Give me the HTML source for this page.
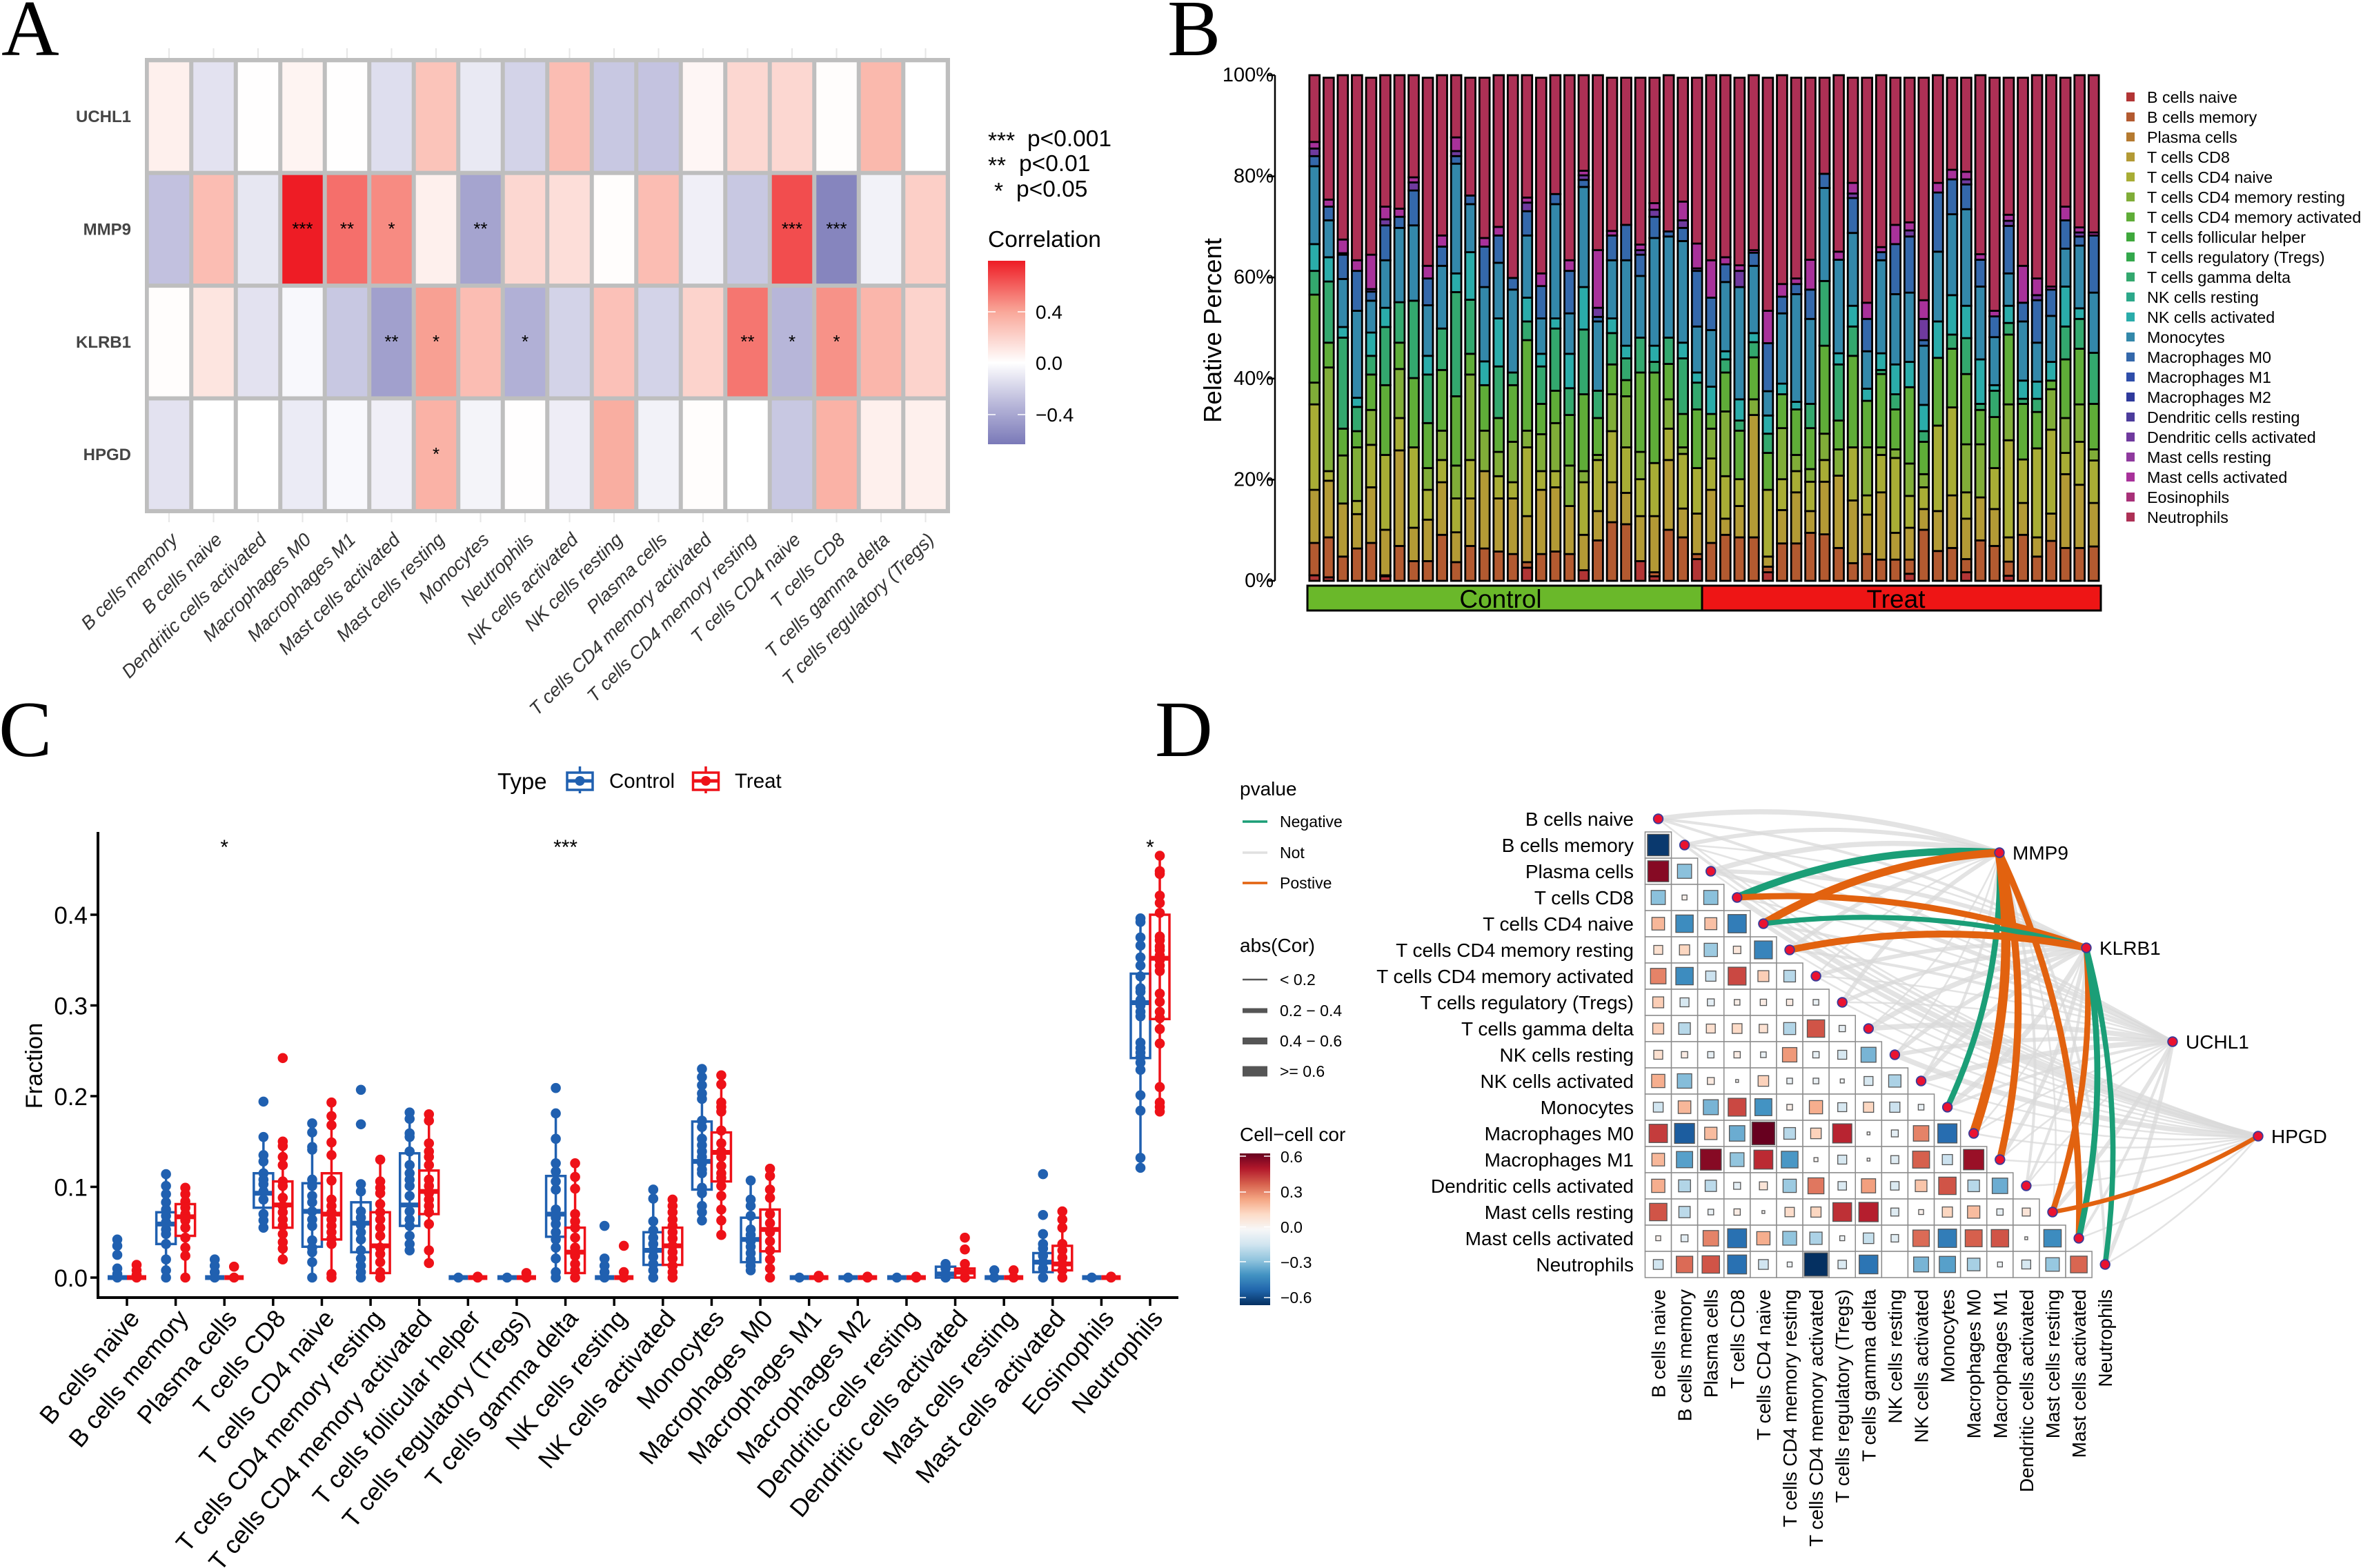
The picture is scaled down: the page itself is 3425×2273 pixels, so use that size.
<!DOCTYPE html>
<html lang="en">
<head>
<meta charset="utf-8">
<title>Immune cell infiltration figure</title>
<style>
html,body{margin:0;padding:0;background:#fff;}
svg{display:block;}
text{font-family:"Liberation Sans",Arial,sans-serif;fill:#000;}
.letter{font-family:"Liberation Serif",serif;font-size:116px;}
</style>
</head>
<body>
<svg id="figure" xmlns="http://www.w3.org/2000/svg" width="3425" height="2273" viewBox="0 0 3425 2273">
  <defs>
    <linearGradient id="corrGradA" x1="0" y1="0" x2="0" y2="1">
      <stop offset="0" stop-color="#ee1c25"/>
      <stop offset="0.278" stop-color="#f9a799"/>
      <stop offset="0.556" stop-color="#ffffff"/>
      <stop offset="0.78" stop-color="#b9b8da"/>
      <stop offset="1" stop-color="#7a79b8"/>
    </linearGradient>
    <linearGradient id="corrGradD" x1="0" y1="0" x2="0" y2="1">
      <stop offset="0" stop-color="#67001f"/>
      <stop offset="0.1" stop-color="#b2182b"/>
      <stop offset="0.2" stop-color="#d6604d"/>
      <stop offset="0.3" stop-color="#f4a582"/>
      <stop offset="0.4" stop-color="#fddbc7"/>
      <stop offset="0.5" stop-color="#f7f7f7"/>
      <stop offset="0.6" stop-color="#d1e5f0"/>
      <stop offset="0.7" stop-color="#92c5de"/>
      <stop offset="0.8" stop-color="#4393c3"/>
      <stop offset="0.9" stop-color="#2166ac"/>
      <stop offset="1" stop-color="#053061"/>
    </linearGradient>
  </defs>

  <text class="letter" x="2" y="80">A</text>
  <text class="letter" x="1692" y="80">B</text>
  <text class="letter" x="-2" y="1096">C</text>
  <text class="letter" x="1674" y="1096">D</text>

  <g id="panelA"></g>
  <g>
    <text x="1432" y="215" font-size="33.5">***</text><text x="1489" y="212" font-size="33.5">p&lt;0.001</text>
    <text x="1432" y="251" font-size="33.5">**</text><text x="1477" y="248" font-size="33.5">p&lt;0.01</text>
    <text x="1441" y="288" font-size="33.5">*</text><text x="1473" y="285" font-size="33.5">p&lt;0.05</text>
  </g>
  <g>
    <text x="1432" y="358" font-size="33.5">Correlation</text>
    <rect x="1432" y="378" width="54" height="266" fill="url(#corrGradA)"/>
    <path d="M1432 452h11M1475 452h11M1432 526h11M1475 526h11M1432 601h11M1475 601h11" stroke="#fff" stroke-width="1.5" fill="none"/>
    <text x="1501" y="462" font-size="28">0.4</text>
    <text x="1501" y="536" font-size="28">0.0</text>
    <text x="1501" y="611" font-size="28">−0.4</text>
  </g>

  <g id="panelB"></g>
  <g>
    <rect x="1895" y="849" width="572" height="36" fill="#6ab82a" stroke="#000" stroke-width="3"/>
    <rect x="2467" y="849" width="578" height="36" fill="#ee1515" stroke="#000" stroke-width="3"/>
    <text x="2175" y="881" font-size="37" text-anchor="middle">Control</text>
    <text x="2748" y="881" font-size="37" text-anchor="middle">Treat</text>
  </g>
  <text transform="translate(1770,479) rotate(-90)" font-size="36.5" text-anchor="middle">Relative Percent</text>

  <g id="panelC"></g>
  <g>
    <text x="721" y="1144" font-size="33">Type</text>
    <path d="M840.5 1111V1150" stroke="#2060b0" stroke-width="3.5"/>
    <rect x="822" y="1120" width="37" height="25" fill="#fff" stroke="#2060b0" stroke-width="3.5"/>
    <path d="M822 1132H859" stroke="#2060b0" stroke-width="5"/>
    <circle cx="840.5" cy="1132" r="7" fill="#2060b0"/>
    <text x="883" y="1142" font-size="29.5">Control</text>
    <path d="M1023 1111V1150" stroke="#ee1118" stroke-width="3.5"/>
    <rect x="1004.500" y="1120" width="37" height="25" fill="#fff" stroke="#ee1118" stroke-width="3.5"/>
    <path d="M1004.500 1132H1041" stroke="#ee1118" stroke-width="5"/>
    <circle cx="1023" cy="1132" r="7" fill="#ee1118"/>
    <text x="1065" y="1142" font-size="29.5">Treat</text>
  </g>
  <text transform="translate(61,1545) rotate(-90)" font-size="34.5" text-anchor="middle">Fraction</text>

  <g id="panelD"></g>
  <g>
    <text x="1797" y="1153" font-size="28">pvalue</text>
    <path d="M1801 1191h36" stroke="#1b9e77" stroke-width="3.5"/><text x="1855" y="1199" font-size="23">Negative</text>
    <path d="M1801 1236h36" stroke="#e0e0e0" stroke-width="3.5"/><text x="1855" y="1244" font-size="23">Not</text>
    <path d="M1801 1280h36" stroke="#e2620f" stroke-width="3.5"/><text x="1855" y="1288" font-size="23">Postive</text>
  </g>
  <g>
    <text x="1797" y="1380" font-size="28">abs(Cor)</text>
    <path d="M1801 1420h36" stroke="#555" stroke-width="2.5"/><text x="1855" y="1428" font-size="23">&lt; 0.2</text>
    <path d="M1801 1465h36" stroke="#555" stroke-width="7"/><text x="1855" y="1473" font-size="23">0.2 − 0.4</text>
    <path d="M1801 1509h36" stroke="#555" stroke-width="10"/><text x="1855" y="1517" font-size="23">0.4 − 0.6</text>
    <path d="M1801 1553h36" stroke="#555" stroke-width="15"/><text x="1855" y="1561" font-size="23">&gt;= 0.6</text>
  </g>
  <g>
    <text x="1797" y="1654" font-size="28">Cell−cell cor</text>
    <rect x="1797" y="1672" width="44" height="220" fill="url(#corrGradD)"/>
    <path d="M1797 1676h9M1832 1676h9M1797 1728h9M1832 1728h9M1797 1778.500h9M1832 1778.500h9M1797 1829h9M1832 1829h9M1797 1881h9M1832 1881h9" stroke="#fff" stroke-width="1.5" fill="none"/>
    <text x="1856" y="1685" font-size="23">0.6</text>
    <text x="1856" y="1736" font-size="23">0.3</text>
    <text x="1856" y="1787" font-size="23">0.0</text>
    <text x="1856" y="1838" font-size="23">−0.3</text>
    <text x="1856" y="1889" font-size="23">−0.6</text>
  </g>

<script>
// ===== Panel A data =====
const heatGenes = ['UCHL1','MMP9','KLRB1','HPGD'];
const heatCells = ['B cells memory','B cells naive','Dendritic cells activated','Macrophages M0','Macrophages M1','Mast cells activated','Mast cells resting','Monocytes','Neutrophils','NK cells activated','NK cells resting','Plasma cells','T cells CD4 memory activated','T cells CD4 memory resting','T cells CD4 naive','T cells CD8','T cells gamma delta','T cells regulatory (Tregs)'];
const corUCHL1 = [0.07,-0.13,0.005,0.05,0.005,-0.15,0.27,-0.1,-0.2,0.3,-0.25,-0.27,0.04,0.18,0.18,0.01,0.32,0];
const corMMP9  = [-0.28,0.3,-0.11,0.8,0.56,0.48,0.07,-0.42,0.18,0.15,0.01,0.3,-0.07,-0.25,0.66,-0.58,-0.06,0.22];
const corKLRB1 = [0.01,0.12,-0.13,-0.03,-0.25,-0.44,0.42,0.3,-0.36,-0.2,0.28,-0.2,0.2,0.54,-0.33,0.46,0.33,0.2];
const corHPGD  = [-0.13,0,0,-0.09,-0.03,-0.07,0.35,-0.05,0.005,-0.08,0.37,-0.06,0.01,0,-0.25,0.35,0.07,0.07];
const starsUCHL1 = ['','','','','','','','','','','','','','','','','',''];
const starsMMP9  = ['','','','***','**','*','','**','','','','','','','***','***','',''];
const starsKLRB1 = ['','','','','','**','*','','*','','','','','**','*','*','',''];
const starsHPGD  = ['','','','','','','*','','','','','','','','','','',''];

// ===== Panel B data: cumulative percent at the top of each stacked segment =====
const stackColors = ['#b23535','#b35a30','#b39a35','#a8ad35','#80ad38','#5fad38','#33a86e','#2aacaa','#3388aa','#3468ab','#6f3a9e','#a8319a','#ad3055'];
const controlSamples = [
[1.1,7.5,18,34.9,39.2,56.6,61.3,66.6,82,84,85.5,86.8,100],
[0.7,8.6,19.8,21.7,42.2,47.1,59.2,64,71.3,74,74,75.4,99.5],
[0,4.8,15.3,15.3,24.8,30.1,48.1,50.2,59.7,64.5,64.8,67.5,100],
[0,6.4,13.2,15.8,26.4,29.6,34.4,36.2,53.4,61.3,61.3,63.4,100],
[0,7.5,18.5,26.9,33.8,40.8,44.5,49.1,55.4,57.2,57.7,64.5,99.5],
[0.9,1.1,10.1,24.9,24.9,38.7,50.2,54,63.4,70.3,71.5,74,100],
[0,6.9,25.8,32.2,41.9,47.1,55.1,55.1,69.8,72,72,73.6,100],
[0,3.9,10.5,26.4,26.4,40.1,55.4,55.4,70.3,77.2,78.8,79.8,100],
[0,3.9,12.1,18,22.3,31.2,40.8,44.5,54.5,59.8,59.8,62.3,99.5],
[0,9.1,19.5,23.9,29.7,41.7,49.9,49.9,62.3,66.1,66.1,68.3,100],
[0,3.7,9.6,16.3,22.8,36.5,57.1,60.8,82.5,84,85,87.7,100],
[0,6.9,16.3,23.9,40.8,44.9,55.6,65,74.5,76.2,76.2,76.2,99.5],
[0,6.4,21.7,21.7,29.7,38.7,38.7,43.4,58.1,66.1,66.1,67.8,99.5],
[0,5.8,16.3,20.7,25.5,32.2,42.4,51.9,62.9,68.3,68.3,70,100],
[0,5.3,16.3,19.5,27.5,38.7,41.2,41.2,57.6,59.9,59.9,59.9,100],
[2.6,3.7,12.8,26.4,29.7,47.6,51.3,56,68.3,73.1,74.8,75.8,100],
[0,5.3,18,21.7,29,35,42.4,44.9,51.9,58.3,58.3,60.8,99.5],
[0,5.8,18.5,21.7,31.2,37.6,49.9,51.9,74.5,76.5,76.5,76.5,100],
[0,5.3,14.8,14.8,22.8,32.8,38.1,44.9,52.9,61.3,61.3,63.4,100],
[2.1,2.1,9.1,19.5,21.7,36.9,49.7,58.1,77.9,79.3,80.2,81.1,100],
[0,8,13.8,23.9,24.9,32.2,37.6,37.6,51.3,52.2,54,65.4,100],
[0,11.6,19.5,29.6,36.9,42.8,49,51.9,63.4,68.3,68.3,69.2,99.5],
[0,11.2,17.4,26.4,36.5,39.7,44,46.5,63.4,70.4,70.4,70.4,99.5],
[3.9,3.9,12.8,20.1,25.5,41.2,48.1,48.1,60.3,64.5,65.4,66.5,99.5],
[0.9,1.7,12.8,23.3,23.3,41.2,43.3,46.5,67.8,72,73.4,74.7,99.5],
[0,10.1,23.9,30.1,35.9,42.9,48.1,48.1,68.1,69.1,69.1,69.1,100],
[0,8.6,14.3,25.1,26.4,33,44,47.1,67.2,69.8,71.3,75,99.5],
[4.3,5.3,13.3,22.3,22.3,33.9,39.2,41.2,50.3,61.3,61.8,66.7,99.5]
];
const treatSamples = [
[0,7.5,18,24.2,30.1,33,33,38.4,49.6,56,56,63.4,100],
[0,9.1,12.3,20.7,33.5,41.2,43.8,45.4,59.1,62.6,62.6,64,100],
[0,8.6,14.8,20.1,20.1,29.7,31.7,35.9,58.1,58.1,61.3,62.4,99.5],
[0,8.6,32.8,32.8,35.9,44.2,47.2,49,62.3,64.9,64.9,65.4,100],
[1.7,2.8,4.8,18,18,25.3,29.1,32.7,37.5,47,47,53.4,99.5],
[0,7.4,14,20.1,30.2,36.9,36.9,39,52.9,56.2,56.2,58.7,100],
[0,7.4,17.5,21.7,24.9,33.9,33.9,35.4,56.7,58.7,58.7,59.8,99.5],
[0,9.5,13.8,19.6,22.1,30.2,35,35,51.8,57.6,57.6,63.5,99.5],
[0,9.2,19.6,23.9,29.1,46.5,59.3,59.3,77.7,80.5,80.5,80.5,99.5],
[0,6.5,20.8,20.8,26,31.7,42.8,45,63.5,63.5,63.5,65.1,100],
[0,3.5,15.9,26.4,26.4,44.5,50.3,54.4,68.8,75.7,76.6,78.7,99.5],
[0,5.3,13.1,16.9,26.4,35.6,35.6,38,45.4,51.8,51.8,55,99.5],
[0,4.2,17.5,24.9,26.4,40.9,41.7,45,63.4,65,65,66,100],
[0,4.2,9.5,24.3,26,33.9,36.9,42.8,56.7,66.6,66.6,70.4,99.5],
[1.4,4.2,10.5,16.8,23.2,38.3,38.3,43.3,57,68.1,69.3,70.9,99.5],
[0,10.1,14.2,18.5,21.1,27.5,29.6,34.8,46.5,47.6,51.8,55.5,99.5],
[0,5.9,13.8,30.7,30.7,44.1,44.1,51.3,65.1,76.8,76.8,78.7,100],
[0,6.5,16.9,34.3,34.3,45.9,48.7,56.5,72.5,79.4,79.4,81.3,99.5],
[1.7,4.3,12.3,17.5,27,40.9,48,54.4,73.5,78.4,79.4,80.9,99.5],
[0,8,16.5,16.5,27,33.8,35,43.8,58.2,63.5,63.5,64.6,100],
[0,6.9,14.2,22.3,22.3,32.4,37.6,38.7,48.2,52.3,52.3,53.4,99.5],
[1,3.8,8.6,27.8,34.9,48.7,51,54.4,60.8,70.2,71.2,72.4,99.5],
[0,9.1,15.4,24,24,35,36,39.6,51.3,55,55,62.3,99.5],
[0,4.8,8.6,26.2,26.2,33.4,36,39.4,47.1,55.5,56.5,59.8,100],
[0,7.9,13.3,29.9,37.9,39.6,39.6,43.3,52.4,57.6,57.6,58.2,100],
[0,6.5,21.1,25.3,32.2,43.8,50.3,58.2,65.7,71.3,71.3,74,99.5],
[0,6.5,19,27.5,34.9,45.9,51.8,53.9,66.3,68.1,68.9,69.9,100],
[0,6.8,15.4,23.8,26,35,45.1,45.1,57,68.3,68.3,68.9,100]
];
const percentTicks = [0,20,40,60,80,100];
const legendNames = ['B cells naive','B cells memory','Plasma cells','T cells CD8','T cells CD4 naive','T cells CD4 memory resting','T cells CD4 memory activated','T cells follicular helper','T cells regulatory (Tregs)','T cells gamma delta','NK cells resting','NK cells activated','Monocytes','Macrophages M0','Macrophages M1','Macrophages M2','Dendritic cells resting','Dendritic cells activated','Mast cells resting','Mast cells activated','Eosinophils','Neutrophils'];
const legendColors = ['#b23535','#b35a30','#b57a30','#b39a35','#a8ad35','#80ad38','#5fad38','#3fa83c','#33a84c','#33a86e','#2ca88a','#2aacaa','#3388aa','#3468ab','#2f4eaa','#2f3a9c','#4c3c9c','#6f3a9e','#8f3a9e','#a8319a','#a83078','#ad3055'];

// ===== Panel C data =====
const boxCells = legendNames;
const fractionTicks = [0,0.1,0.2,0.3,0.4];
const boxStars = ['','','*','','','','','','','***','','','','','','','','','','','','*'];
const controlQ1  = [0,0.037,0,0.077,0.034,0.028,0.057,0,0,0.045,0,0.014,0.097,0.017,0,0,0,0,0,0.006,0,0.242];
const controlMed = [0,0.059,0,0.093,0.073,0.06,0.08,0,0,0.07,0,0.03,0.128,0.042,0,0,0,0.004,0,0.017,0,0.303];
const controlQ3  = [0,0.072,0,0.115,0.104,0.083,0.137,0,0,0.112,0,0.05,0.172,0.066,0,0,0,0.012,0,0.027,0,0.335];
const controlLo  = [0,0,0,0.056,0,0,0.03,0,0,0,0,0,0.06,0.008,0,0,0,0,0,0,0,0.12];
const controlHi  = [0,0.115,0,0.155,0.17,0.104,0.182,0,0,0.18,0,0.097,0.23,0.107,0,0,0,0.015,0,0.048,0,0.398];
const treatQ1  = [0,0.046,0,0.055,0.042,0.005,0.07,0,0,0.005,0,0.014,0.106,0.029,0,0,0,0,0,0.008,0,0.285];
const treatMed = [0,0.067,0,0.08,0.07,0.035,0.095,0,0,0.028,0,0.035,0.138,0.053,0,0,0,0.006,0,0.015,0,0.352];
const treatQ3  = [0,0.081,0,0.106,0.115,0.072,0.118,0,0,0.055,0,0.055,0.16,0.075,0,0,0,0.01,0,0.035,0,0.4];
const treatLo  = [0,0,0,0.02,0,0,0.015,0,0,0,0,0,0.047,0,0,0,0,0,0,0,0,0.182];
const treatHi  = [0,0.1,0,0.15,0.193,0.13,0.18,0,0,0.127,0,0.087,0.222,0.12,0,0,0,0.014,0,0.075,0,0.467];
const controlPoints = [
[0.042,0.035,0.025,0.01,0.004,0],
[0.114,0.101,0.092,0.083,0.075,0.068,0.061,0.053,0.048,0.037,0.02,0.008,0],
[0.02,0.013,0.006,0],
[0.194,0.155,0.135,0.128,0.115,0.108,0.103,0.095,0.086,0.07,0.063,0.055],
[0.17,0.16,0.144,0.141,0.108,0.101,0.09,0.083,0.073,0.064,0.057,0.041,0.033,0.028,0.017,0],
[0.207,0.169,0.103,0.095,0.073,0.066,0.058,0.05,0.042,0.03,0.021,0.013,0.006,0],
[0.182,0.175,0.159,0.155,0.139,0.124,0.115,0.108,0.101,0.09,0.073,0.064,0.057,0.046,0.037,0.03],
[0],
[0],
[0.209,0.181,0.153,0.126,0.117,0.106,0.097,0.075,0.066,0.059,0.05,0.042,0.033,0.021,0.006,0],
[0.057,0.021,0.013,0.006,0],
[0.097,0.087,0.062,0.052,0.044,0.037,0.03,0.023,0.015,0.008,0],
[0.23,0.221,0.212,0.203,0.197,0.173,0.166,0.153,0.146,0.139,0.133,0.126,0.119,0.115,0.099,0.093,0.079,0.072,0.063],
[0.107,0.086,0.079,0.068,0.053,0.047,0.04,0.034,0.027,0.02,0.013,0.008],
[0],
[0],
[0],
[0.015,0.01,0.004,0],
[0.008,0],
[0.114,0.069,0.048,0.037,0.032,0.024,0.017,0.01,0],
[0],
[0.396,0.392,0.375,0.366,0.353,0.344,0.332,0.319,0.315,0.306,0.3,0.293,0.288,0.259,0.253,0.248,0.243,0.237,0.229,0.201,0.184,0.132,0.121]
];
const treatPoints = [
[0.014,0.008,0.003,0],
[0.099,0.092,0.084,0.077,0.07,0.063,0.055,0.044,0.033,0.024,0],
[0.012,0],
[0.242,0.15,0.145,0.133,0.124,0.106,0.101,0.088,0.079,0.072,0.064,0.057,0.048,0.039,0.032,0.02],
[0.193,0.178,0.168,0.149,0.135,0.107,0.086,0.079,0.072,0.064,0.057,0.05,0.043,0.037,0.004,0],
[0.13,0.106,0.099,0.093,0.081,0.072,0.064,0.055,0.046,0.033,0.026,0.017,0.006,0],
[0.18,0.173,0.148,0.139,0.133,0.124,0.108,0.101,0.093,0.086,0.079,0.072,0.059,0.03,0.016],
[0.001,0],
[0.005,0],
[0.126,0.111,0.098,0.07,0.062,0.055,0.044,0.033,0.024,0.015,0.008,0],
[0.035,0.006,0],
[0.086,0.079,0.072,0.064,0.057,0.05,0.043,0.035,0.028,0.021,0.013,0.006,0],
[0.223,0.213,0.193,0.188,0.183,0.162,0.148,0.139,0.133,0.123,0.115,0.11,0.101,0.09,0.075,0.063,0.047],
[0.12,0.112,0.097,0.088,0.07,0.06,0.05,0.04,0.03,0.02,0.01,0],
[0.002,0],
[0.001,0],
[0.001,0],
[0.044,0.031,0.015,0.008,0],
[0.008,0],
[0.073,0.064,0.055,0.037,0.03,0.022,0.015,0.008,0],
[0.001,0],
[0.465,0.448,0.445,0.421,0.413,0.402,0.376,0.372,0.365,0.361,0.355,0.35,0.344,0.338,0.313,0.304,0.293,0.286,0.274,0.258,0.21,0.193,0.188,0.183]
];

// ===== Panel D data =====
const netCells = ['B cells naive','B cells memory','Plasma cells','T cells CD8','T cells CD4 naive','T cells CD4 memory resting','T cells CD4 memory activated','T cells regulatory (Tregs)','T cells gamma delta','NK cells resting','NK cells activated','Monocytes','Macrophages M0','Macrophages M1','Dendritic cells activated','Mast cells resting','Mast cells activated','Neutrophils'];
const cellCorRows = [
[],
[-0.58],
[0.55,-0.25],
[-0.25,0.03,-0.25],
[0.2,-0.38,0.18,-0.42],
[0.1,0.13,-0.22,0.07,-0.4],
[0.3,-0.38,-0.13,0.4,0.15,-0.17],
[0.15,-0.1,-0.06,0.04,0.05,0.05,-0.04],
[0.15,-0.17,0.1,0.12,0.09,-0.18,0.38,-0.05],
[0.1,0.05,-0.05,0.05,-0.04,0.26,-0.05,-0.1,-0.28],
[0.22,-0.26,0.06,0.01,0.14,-0.04,-0.04,-0.02,-0.1,-0.19],
[-0.12,0.2,-0.28,0.4,-0.36,0.04,0.22,-0.1,0.13,-0.13,-0.04],
[0.42,-0.5,0.19,-0.3,0.65,-0.17,0.14,0.46,0.01,-0.06,0.3,-0.46],
[0.2,-0.33,0.55,-0.24,0.45,-0.35,0.02,-0.1,0.01,-0.08,0.36,-0.13,0.52],
[0.22,-0.18,-0.16,-0.06,0.08,-0.22,0.32,-0.09,0.25,-0.09,0.17,0.38,-0.17,-0.3],
[0.38,-0.16,-0.04,0.05,0.01,0.11,0.13,0.44,0.47,-0.08,0.03,0.13,0.19,-0.05,0.08],
[0.03,-0.06,0.3,-0.45,0.22,-0.24,-0.19,-0.03,-0.14,-0.07,0.34,-0.42,0.36,0.38,0.01,-0.38],
[-0.12,0.34,0.38,-0.45,-0.12,-0.03,-0.68,-0.09,-0.44,0,-0.28,-0.33,-0.2,-0.03,-0.1,-0.23,0.35]
];
const rdBuStops = ['#67001f','#b2182b','#d6604d','#f4a582','#fddbc7','#f7f7f7','#d1e5f0','#92c5de','#4393c3','#2166ac','#053061'];

// ===== helpers =====
const SVGNS = 'http://www.w3.org/2000/svg';
function make(parent, tag, attrs, text) {
  const node = document.createElementNS(SVGNS, tag);
  for (const k in attrs) node.setAttribute(k, attrs[k]);
  if (text !== undefined) node.textContent = text;
  parent.appendChild(node);
  return node;
}
function hexToRgb(h) { return [parseInt(h.slice(1,3),16),parseInt(h.slice(3,5),16),parseInt(h.slice(5,7),16)]; }
function mix(a, b, t) {
  const x = hexToRgb(a), y = hexToRgb(b);
  return 'rgb(' + x.map((c,i) => Math.round(c + (y[i]-c)*t)).join(',') + ')';
}

// ===== Panel A =====
const panelA = document.getElementById('panelA');
const heatX = i => 245 + 64.5 * i;
const heatY = r => 169 + 163.4 * r;
function heatColor(v) {
  if (v >= 0.4) return mix('#f9a799', '#ee1c25', Math.min(1, (v - 0.4) / 0.4));
  if (v >= 0) return mix('#ffffff', '#f9a799', v / 0.4);
  if (v >= -0.32) return mix('#ffffff', '#b9b8da', -v / 0.32);
  return mix('#b9b8da', '#7a79b8', Math.min(1, (-v - 0.32) / 0.32));
}
const heatValues = [corUCHL1, corMMP9, corKLRB1, corHPGD];
const heatStars = [starsUCHL1, starsMMP9, starsKLRB1, starsHPGD];
heatCells.forEach((c, i) => {
  const gridline = make(panelA, 'path', {d:'M'+heatX(i)+' 70V757', stroke:'#e6e6e6', 'stroke-width':2});
  
  
});
const heatFrame = make(panelA, 'rect', {x:210, y:84, width:1167, height:660, fill:'#bebebe'});


heatGenes.forEach((g, r) => {
  const rowLabel = make(panelA, 'text', {x:190, y:heatY(r)+8, 'font-size':24, 'font-weight':'bold', 'text-anchor':'end', style:'fill:#454545'}, g);
  
  
  heatCells.forEach((c, i) => {
    const tile = make(panelA, 'rect', {x:heatX(i)-29.25, y:heatY(r)-78.7, width:58.5, height:157.4, fill:heatColor(heatValues[r][i])});
    
    
    if (heatStars[r][i]) {
      const star = make(panelA, 'text', {x:heatX(i), y:heatY(r)+8, 'font-size':26, 'text-anchor':'middle'}, heatStars[r][i]);
      
      
    }
  });
});
heatCells.forEach((c, i) => {
  const colLabel = make(panelA, 'text', {transform:'translate('+(heatX(i)+14)+',784) rotate(-45)', 'font-size':27, 'font-style':'italic', 'text-anchor':'end', style:'fill:#333333'}, c);
  
  
});

// ===== Panel B =====
const panelB = document.getElementById('panelB');
const allSamples = controlSamples.concat(treatSamples);
const barPitch = 1150 / allSamples.length;
const barX = i => 1895 + barPitch * (i + 0.5);
const pctY = p => 842 - 7.33 * p;
allSamples.forEach((sample, i) => {
  const barGroup = make(panelB, 'g', {});
  
  
  let prev = 0;
  sample.forEach((top, k) => {
    if (top <= prev) return;
    const seg = make(barGroup, 'rect', {x:barX(i)-7.4, y:pctY(top), width:14.8, height:pctY(prev)-pctY(top), fill:stackColors[k], stroke:'#000', 'stroke-width':2.8});
    
    
    prev = top;
  });
});
const pctAxis = make(panelB, 'path', {d:'M1848 '+pctY(100)+'V'+pctY(0), stroke:'#000', 'stroke-width':2.5});


percentTicks.forEach(t => {
  const tick = make(panelB, 'path', {d:'M1838 '+pctY(t)+'H1848', stroke:'#000', 'stroke-width':2.5});
  
  
  const label = make(panelB, 'text', {x:1846, y:pctY(t)+9, 'font-size':29, 'text-anchor':'end'}, t + '%');
  
  
});
legendNames.forEach((n, i) => {
  const swatch = make(panelB, 'rect', {x:3082, y:134+29*i, width:12, height:13, fill:legendColors[i]});
  
  
  const label = make(panelB, 'text', {x:3112, y:149+29*i, 'font-size':23.3}, n);
  
  
});

// ===== Panel C =====
const panelC = document.getElementById('panelC');
const BLUE = '#2060b0', RED = '#ee1118';
const catX = i => 184 + 70.62 * i;
const fracY = v => 1852 - 1315 * v;
function drawBox(i, dx, color, q1, med, q3, lo, hi, pts) {
  const x = catX(i) + dx;
  const whisker = make(panelC, 'path', {d:'M'+x+' '+fracY(hi)+'V'+fracY(lo), stroke:color, 'stroke-width':3.5});
  
  
  pts.forEach(v => {
    const dot = make(panelC, 'circle', {cx:x, cy:fracY(v), r:7.3, fill:color});
    
    
  });
  const box = make(panelC, 'rect', {x:x-14, y:fracY(q3), width:28, height:Math.max(0, fracY(q1)-fracY(q3)), fill:'none', stroke:color, 'stroke-width':3.5});
  
  
  const median = make(panelC, 'path', {d:'M'+(x-14)+' '+fracY(med)+'H'+(x+14), stroke:color, 'stroke-width':7});
  
  
}
boxCells.forEach((c, i) => {
  drawBox(i, -14, BLUE, controlQ1[i], controlMed[i], controlQ3[i], controlLo[i], controlHi[i], controlPoints[i]);
  drawBox(i, 14, RED, treatQ1[i], treatMed[i], treatQ3[i], treatLo[i], treatHi[i], treatPoints[i]);
  const tick = make(panelC, 'path', {d:'M'+catX(i)+' 1881V1893', stroke:'#000', 'stroke-width':3.5});
  
  
  const label = make(panelC, 'text', {transform:'translate('+(catX(i)+20)+',1912) rotate(-50)', 'font-size':36, 'text-anchor':'end'}, c);
  
  
  if (boxStars[i]) {
    const star = make(panelC, 'text', {x:catX(i), y:1238, 'font-size':30, 'text-anchor':'middle'}, boxStars[i]);
    
    
  }
});
const fracAxisY = make(panelC, 'path', {d:'M142 1206V1883', stroke:'#000', 'stroke-width':4});


const fracAxisX = make(panelC, 'path', {d:'M140 1881H1708', stroke:'#000', 'stroke-width':4});


fractionTicks.forEach(t => {
  const tick = make(panelC, 'path', {d:'M131 '+fracY(t)+'H142', stroke:'#000', 'stroke-width':3.5});
  
  
  const label = make(panelC, 'text', {x:127, y:fracY(t)+13, 'font-size':35, 'text-anchor':'end'}, t.toFixed(1));
  
  
});

// ===== Panel D =====
const panelD = document.getElementById('panelD');
const nodeX = i => 2403.5 + 38.1 * i;
const nodeY = i => 1187 + 38 * i;
const geneNodes = [['MMP9',2898,1236,corMMP9,starsMMP9],['KLRB1',3024,1374,corKLRB1,starsKLRB1],['UCHL1',3149,1510,corUCHL1,starsUCHL1],['HPGD',3273,1647,corHPGD,starsHPGD]];
function rdBu(v) {
  const t = Math.max(0, Math.min(0.9999, (0.6 - v) / 1.2)) * 10;
  const k = Math.floor(t);
  return mix(rdBuStops[k], rdBuStops[k+1], t - k);
}
function edgeWidth(r, sig) {
  const a = Math.abs(r);
  if (sig) return 3 + 13 * a;
  return a < 0.1 ? 2.5 : a < 0.2 ? 4 : a < 0.3 ? 6 : 7.5;
}
function edgePath(x1, y1, x2, y2, g) {
  const dx = x2-x1, dy = y2-y1, L = Math.hypot(dx, dy);
  const down = g === 3;
  const sag = L * (g === 0 ? 0.06 : g === 1 ? 0.05 : g === 2 ? 0.03 : 0.045);
  let nx = -dy / L, ny = dx / L;
  const bias = down ? nx + ny : nx - ny;
  if (bias < 0) { nx = -nx; ny = -ny; }
  const cx = (x1+x2)/2 + nx*sag*2, cy = (y1+y2)/2 + ny*sag*2;
  return 'M'+x1+' '+y1+'Q'+cx+' '+cy+' '+x2+' '+y2;
}
const linkLayerGray = make(panelD, 'g', {});


const linkLayerSig = make(panelD, 'g', {});


geneNodes.forEach((gene, g) => {
  netCells.forEach((cell, i) => {
    const idx = heatCells.indexOf(cell);
    const r = gene[3][idx], sig = gene[4][idx] !== '';
    const stroke = sig ? (r < 0 ? '#1b9e77' : '#e2620f') : '#d9d9d9';
    const link = make(sig ? linkLayerSig : linkLayerGray, 'path', {d:edgePath(nodeX(i), nodeY(i), gene[1], gene[2], g), fill:'none', stroke:stroke, 'stroke-width':g === 3 && sig ? 6.5 : edgeWidth(r, sig), 'stroke-opacity':sig ? 1 : 0.75});
    
    
  });
});
cellCorRows.forEach((row, r) => {
  row.forEach((v, c) => {
    const cx = nodeX(c), cy = nodeY(r);
    const cell = make(panelD, 'rect', {x:cx-19.05, y:cy-19, width:38.1, height:38, fill:'#fff', stroke:'#8c8c8c', 'stroke-width':1.5});
    
    
    const side = Math.sqrt(Math.abs(v) / 0.65) * 33;
    const sq = make(panelD, 'rect', {x:cx-side/2, y:cy-side/2, width:side, height:side, fill:rdBu(v), stroke:'#555', 'stroke-width':1.3});
    
    
  });
});
netCells.forEach((cell, i) => {
  const rowLabel = make(panelD, 'text', {x:2368, y:nodeY(i)+10, 'font-size':28, 'text-anchor':'end'}, cell);
  
  
  const colLabel = make(panelD, 'text', {transform:'translate('+(nodeX(i)+10)+',1869) rotate(-90)', 'font-size':28, 'text-anchor':'end'}, cell);
  
  
  const node = make(panelD, 'circle', {cx:nodeX(i), cy:nodeY(i), r:6.8, fill:'#ea1230', stroke:'#3b3a98', 'stroke-width':1.8});
  
  
});
geneNodes.forEach(gene => {
  const node = make(panelD, 'circle', {cx:gene[1], cy:gene[2], r:6.8, fill:'#ea1230', stroke:'#3b3a98', 'stroke-width':1.8});
  
  
  const label = make(panelD, 'text', {x:gene[1]+19, y:gene[2]+10, 'font-size':28}, gene[0]);
  
  
});
</script>
</svg>
</body>
</html>
